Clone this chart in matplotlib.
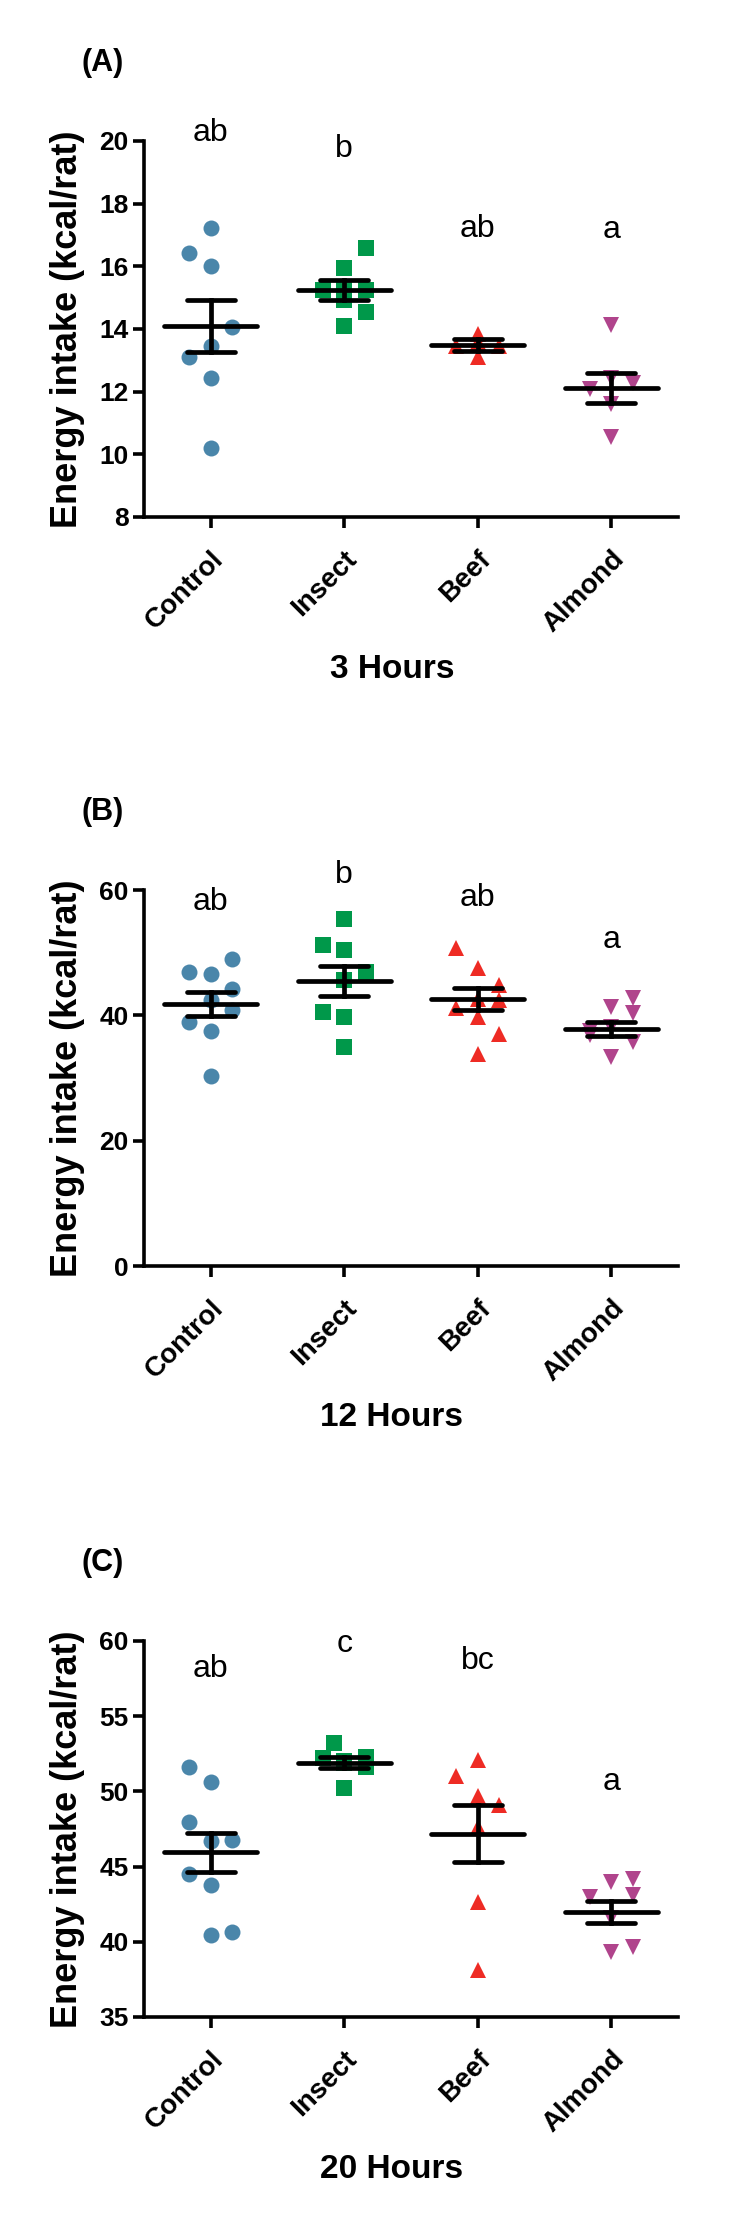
import matplotlib.pyplot as plt
from matplotlib import font_manager
import numpy as np

groups = ["Control", "Insect", "Beef", "Almond"]
colors = ["#4a86aa", "#00984a", "#ee2b24", "#b0448c"]
markers = ["o", "s", "^", "v"]

# panel A - 3 hours
a_vals = {
    "Control": [17.23, 16.41, 16.0, 14.07, 13.46, 13.11, 12.44, 10.19],
    "Insect": [16.60, 15.96, 15.25, 15.25, 15.25, 14.93, 14.53, 14.08],
    "Beef": [13.85, 13.55, 13.5, 13.45, 13.45, 13.5, 13.1, 13.6],
    "Almond": [14.13, 12.43, 12.28, 12.09, 11.6, 10.56],
}
a_dx = {
    "Control": [0, -1, 0, 1, 0, -1, 0, 0],
    "Insect": [1, 0, -1, 1, 0, 0, 1, 0],
    "Beef": [0, 0, 0, -1, 1, 0, 0, 0],
    "Almond": [0, 0, 1, -1, 0, 0],
}
a_mean = [14.1, 15.23, 13.5, 12.13]
a_sem = [0.83, 0.32, 0.19, 0.48]
a_letters = ["ab", "b", "ab", "a"]
a_letter_y = [20.27, 19.73, 17.2, 17.16]

# panel B - 12 hours
b_vals = {
    "Control": [49.04, 46.86, 46.6, 44.26, 42.45, 40.85, 39.0, 37.5, 30.3],
    "Insect": [55.32, 51.17, 50.43, 46.86, 45.6, 40.59, 39.68, 35.0],
    "Beef": [50.8, 47.5, 44.84, 42.6, 42.4, 41.1, 39.8, 37.1, 33.9],
    "Almond": [42.7, 41.4, 40.4, 38.2, 37.5, 36.9, 35.7, 33.4],
}
b_dx = {
    "Control": [1, -1, 0, 1, 0, 1, -1, 0, 0],
    "Insect": [0, -1, 0, 1, 0, -1, 0, 0],
    "Beef": [-1, 0, 1, 0, 1, -1, 0, 1, 0],
    "Almond": [1, 0, 1, 0, -1, -1, 1, 0],
}
b_mean = [41.8, 45.5, 42.6, 37.85]
b_sem = [1.9, 2.4, 1.7, 1.15]
b_letters = ["ab", "b", "ab", "a"]
b_letter_y = [58.1, 62.4, 58.7, 52.0]

# panel C - 20 hours
c_vals = {
    "Control": [51.65, 50.62, 47.95, 46.8, 46.73, 44.52, 43.79, 40.44, 40.62],
    "Insect": [53.25, 52.2, 52.3, 51.6, 52.0, 51.9, 50.25],
    "Beef": [52.07, 51.02, 49.7, 49.1, 47.6, 42.67, 38.1],
    "Almond": [44.16, 44.0, 43.1, 43.0, 41.56, 39.67, 39.33],
}
c_dx = {
    "Control": [-1, 0, -1, 1, 0, -1, 0, 0, 1],
    "Insect": [-0.5, -1, 1, 1, 0, 0, 0],
    "Beef": [0, -1, 0, 1, 0, 0, 0],
    "Almond": [1, 0, 1, -1, 0, 1, 0],
}
c_mean = [45.95, 51.92, 47.2, 42.0]
c_sem = [1.28, 0.39, 1.9, 0.72]
c_letters = ["ab", "c", "bc", "a"]
c_letter_y = [58.15, 59.8, 58.7, 50.6]

panels = [
    ("(A)", "3 Hours", a_vals, a_dx, a_mean, a_sem, a_letters, a_letter_y, (8, 20), [8, 10, 12, 14, 16, 18, 20]),
    ("(B)", "12 Hours", b_vals, b_dx, b_mean, b_sem, b_letters, b_letter_y, (0, 60), [0, 20, 40, 60]),
    ("(C)", "20 Hours", c_vals, c_dx, c_mean, c_sem, c_letters, c_letter_y, (35, 60), [35, 40, 45, 50, 55, 60]),
]

names = {f.name for f in font_manager.fontManager.ttflist}
fam = "Liberation Sans" if "Liberation Sans" in names else "DejaVu Sans"
plt.rcParams['font.family'] = fam

fig = plt.figure(figsize=(7.54, 22.16), dpi=100)
W, H = 754, 2216
tops = [141, 890, 1641]
ax_h = 376
left, right = 144, 678
ax_w = right - left

for (tag, xlab, vals, dx, mean, sem, letters, ly, ylim, yticks), top in zip(panels, tops):
    ax = fig.add_axes([left / W, 1 - (top + ax_h) / H, ax_w / W, ax_h / H])
    for i, g in enumerate(groups):
        x = i + 0.16 * np.array(dx[g])
        ax.plot(x, vals[g], linestyle="none", marker=markers[i], color=colors[i],
                markersize=11.5, markeredgewidth=0, zorder=2, clip_on=False)
        # mean and SEM
        ax.plot([i - 0.35, i + 0.35], [mean[i], mean[i]], color="black", lw=3.4,
                solid_capstyle="round", zorder=3)
        ax.plot([i, i], [mean[i] - sem[i], mean[i] + sem[i]], color="black", lw=3.4, zorder=3)
        for v in (mean[i] - sem[i], mean[i] + sem[i]):
            ax.plot([i - 0.18, i + 0.18], [v, v], color="black", lw=3.4,
                    solid_capstyle="round", zorder=3)
        ax.text(i, ly[i], letters[i], ha="center", va="center", fontsize=23, clip_on=False)

    ax.set_xlim(-0.5, 3.5)
    ax.set_ylim(*ylim)
    ax.set_yticks(yticks)
    ax.set_xticks(range(4))
    ax.set_xticklabels(groups, rotation=45, ha="right", rotation_mode="anchor",
                       fontsize=20, fontweight="bold")
    for lab in ax.get_yticklabels():
        lab.set_fontsize(19)
        lab.set_fontweight("bold")
    ax.spines["top"].set_visible(False)
    ax.spines["right"].set_visible(False)
    ax.spines["left"].set_linewidth(2.6)
    ax.spines["bottom"].set_linewidth(2.6)
    ax.tick_params(axis="both", length=8, width=2.6, direction="out", pad=3)
    ax.tick_params(axis="x", pad=13)
    ax.set_xlabel(xlab, fontsize=24, fontweight="bold", va="center")
    ax.xaxis.set_label_coords((392 - left) / ax_w, -152 / ax_h)
    ax.set_ylabel("Energy intake (kcal/rat)", fontsize=26, fontweight="bold", va="center")
    ax.yaxis.set_label_coords((68 - left) / ax_w, 0.5)
    ax.text((103 - left) / ax_w, 1 + 78 / ax_h, tag, transform=ax.transAxes,
            ha="center", va="center", fontsize=22, fontweight="bold")

fig.savefig("out.png", dpi=100)
